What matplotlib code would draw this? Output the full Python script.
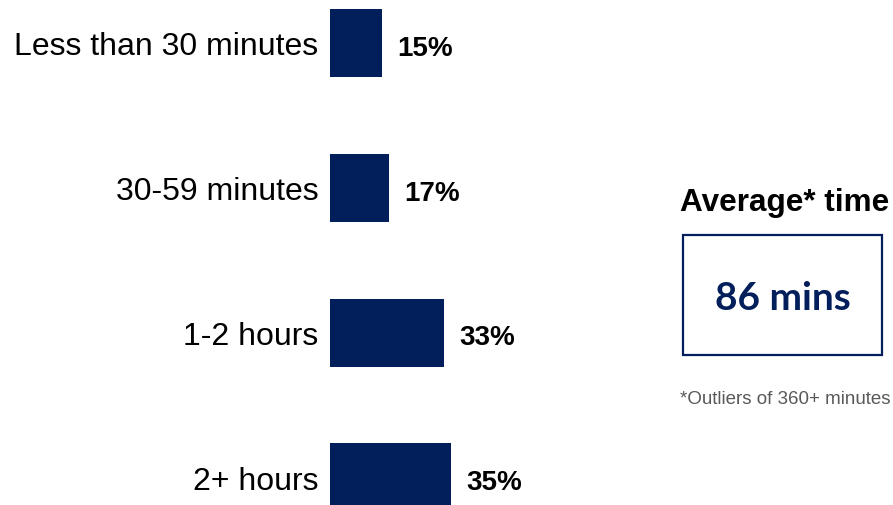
import matplotlib
matplotlib.use("Agg")
import matplotlib.pyplot as plt
from matplotlib.patches import Rectangle

plt.rcParams['font.family'] = ['Liberation Sans', 'DejaVu Sans']

categories = ['Less than 30 minutes', '30-59 minutes', '1-2 hours', '2+ hours']
shares = [15, 17, 33, 35]
avg_label = 'Average* time'
avg_value = '86 mins'
footnote = '*Outliers of 360+ minutes'

NAVY = '#021F5C'
W, H = 893, 506

fig = plt.figure(figsize=(W / 100, H / 100), dpi=100)

# bar axes: left edge at x=330px, ~3.45 px per percent
ax_w = 300
ax = fig.add_axes([330 / W, 0, ax_w / W, 1])
ax.set_xlim(0, ax_w / 3.45)
ax.set_ylim(3.19, -0.303)

pos = list(range(len(categories)))
ax.barh(pos, shares, height=0.47, color=NAVY, clip_on=False)

for p, v in zip(pos, shares):
    ax.annotate(f'{v}%', xy=(v, p), xytext=(11, -3.5), textcoords='offset points',
                ha='left', va='center', fontsize=20, fontweight='bold', color='black')

ax.set_yticks(pos)
ax.set_yticklabels(categories, fontsize=23)
ax.tick_params(axis='y', length=0, pad=8.5)
ax.set_xticks([])
for s in ax.spines.values():
    s.set_visible(False)

# right-hand panel
def fx(px):
    return px / W

def fy(py):
    return 1 - py / H

fig.text(fx(785), fy(203), avg_label, ha='center', va='center',
         fontsize=22.7, fontweight='bold', color='black')

box = Rectangle((fx(683), fy(356)), fx(882) - fx(683), fy(236) - fy(356),
                transform=fig.transFigure, fill=False, edgecolor=NAVY, linewidth=1.6)
fig.add_artist(box)

fig.text(fx(783), fy(299), avg_value, ha='center', va='center',
         fontsize=28, fontweight='bold', color=NAVY, family=['Lato', 'DejaVu Sans'])

fig.text(fx(680), fy(400), footnote, ha='left', va='center',
         fontsize=13.5, color='#595959')

fig.savefig('out.png', dpi=100)
